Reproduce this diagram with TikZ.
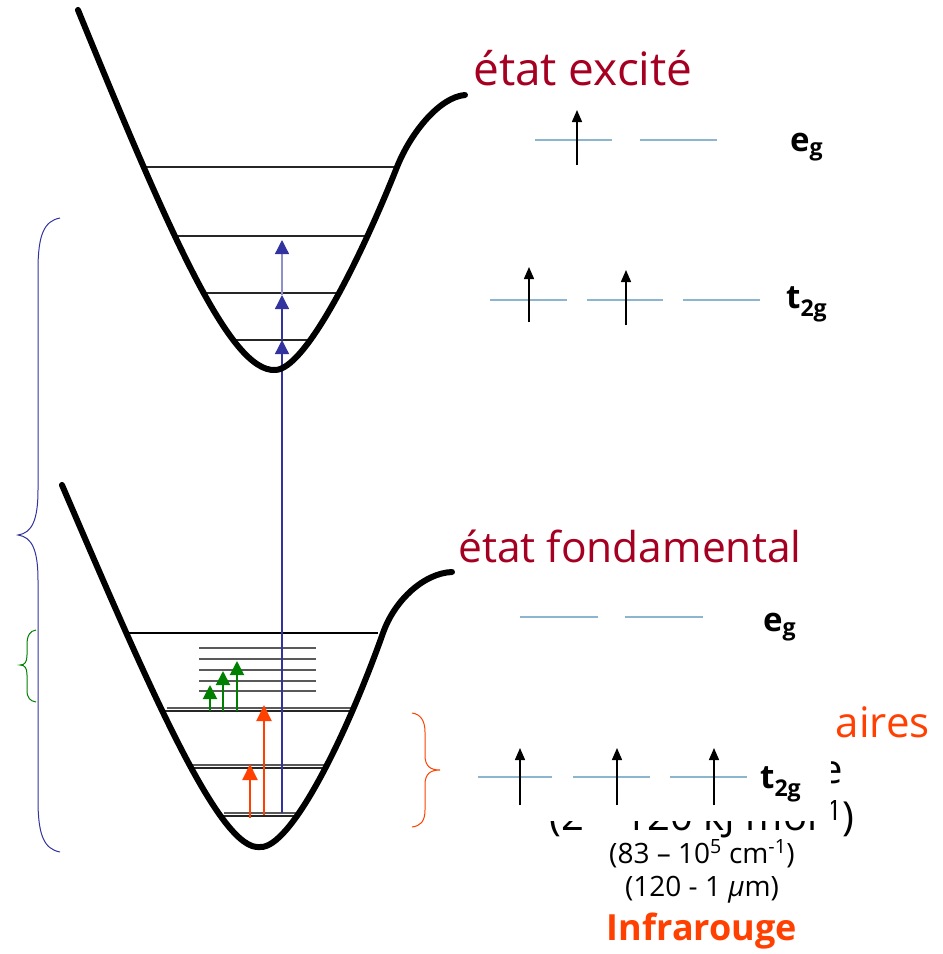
\documentclass[tikz,border=0pt]{standalone}
\usepackage{fontspec}
\setmainfont{Open Sans}
\usetikzlibrary{arrows.meta}
\definecolor{wine}{RGB}{165,0,33}
\definecolor{ired}{RGB}{255,64,0}
\definecolor{vblue}{RGB}{51,51,160}
\definecolor{vgreen}{RGB}{0,128,0}
\definecolor{orb}{RGB}{140,182,206}
\begin{document}
\begin{tikzpicture}[x=1pt,y=-1pt,
  pot/.style={line width=6pt,line cap=round,line join=round},
  lvl/.style={line width=1.5pt,black!85},
  lvlg/.style={line width=1.8pt,black!65},
  barrow/.style={line width=1.3pt,vblue,-{Triangle[length=14pt,width=14pt]}},
  garrow/.style={line width=2pt,vgreen,-{Triangle[length=14pt,width=14pt]}},
  rarrow/.style={line width=2pt,ired,-{Triangle[length=16pt,width=15pt]}},
  karrow/.style={line width=1.5pt,black,-{Triangle[length=12pt,width=10pt]}},
  orbl/.style={line width=2pt,orb},
  brace/.style={line width=1pt},
  title/.style={text=wine,inner sep=0pt},
  lab/.style={inner sep=0pt,font=\fontsize{33}{36}\selectfont\bfseries}]
\useasboundingbox (0,0) rectangle (943,954);

% ---------- excited state levels ----------
\draw[lvl] (143,167) -- (397,167);
\draw[lvl] (177,236) -- (365,236);
\draw[lvl] (205,293) -- (340,293);
\draw[lvl] (233,340) -- (312,340);

% ---------- ground state levels ----------
\draw[line width=1.3pt] (125,633) -- (378,633);
\foreach \yy in {648,659,670,681,691} \draw[lvlg] (199,\yy) -- (316,\yy);
\draw[lvlg] (167,708) -- (352,708); \draw[lvl] (162,711) -- (350,711);
\draw[lvlg] (190,765) -- (326,765); \draw[lvl] (188,768) -- (326,768);
\draw[lvlg] (224,813) -- (298,813); \draw[lvl] (222,816) -- (298,816);

% ---------- arrows in the wells ----------
\coordinate (b0) at (282,813);
\coordinate (b1) at (282,340);
\coordinate (b2) at (282,295);
\coordinate (b3) at (282,240);
\draw[barrow] (b0) -- (b1);
\draw[barrow] (b1) -- (b2);
\draw[line width=1.3pt,vblue!55,-{Triangle[length=14pt,width=14pt,color=vblue]}] (b2) -- (b3);

\coordinate (g1s) at (210,711); \coordinate (g1e) at (210,685);
\coordinate (g2s) at (223,711); \coordinate (g2e) at (223,671);
\coordinate (g3s) at (237,711); \coordinate (g3e) at (237,661);
\draw[garrow] (g1s) -- (g1e);
\draw[garrow] (g2s) -- (g2e);
\draw[garrow] (g3s) -- (g3e);

\coordinate (r1s) at (250,818); \coordinate (r1e) at (250,764);
\coordinate (r2s) at (264,815); \coordinate (r2e) at (264,705);
\draw[rarrow] (r1s) -- (r1e);
\draw[rarrow] (r2s) -- (r2e);

% ---------- potential curves ----------
\draw[pot] (78,10) .. controls (170,235) and (230,372) .. (275,370)
  .. controls (305,370) and (360,260) .. (397,167)
  .. controls (411,132) and (440,97) .. (465,95);
\draw[pot] (62,485) .. controls (150,690) and (220,852) .. (260,847)
  .. controls (290,849) and (345,740) .. (383,633)
  .. controls (395,599) and (425,573) .. (452,572);

% ---------- braces ----------
\draw[brace,vblue] (60,218) .. controls (44,221) and (38,235) .. (38,270) -- (38,490)
  .. controls (38,520) and (32,533) .. (18,535)
  .. controls (32,537) and (38,550) .. (38,580) -- (38,800)
  .. controls (38,835) and (44,849) .. (60,852);
\draw[brace,vgreen] (36,630) .. controls (30,631) and (27,635) .. (27,645) -- (27,655)
  .. controls (27,662) and (25,665) .. (20,665)
  .. controls (25,665) and (27,668) .. (27,675) -- (27,690)
  .. controls (27,698) and (30,701) .. (36,702);
\draw[brace,ired] (412,713) .. controls (420,714) and (425,720) .. (425,732) -- (425,755)
  .. controls (425,766) and (430,770) .. (440,770)
  .. controls (430,770) and (425,774) .. (425,785) -- (425,810)
  .. controls (425,822) and (420,826) .. (412,827);

% ---------- titles ----------
\node[title,anchor=base west,font=\fontsize{46}{50}\selectfont] (exc) at (473,85) {état excité};
\node[title,anchor=base west,font=\fontsize{42.5}{48}\selectfont] (fond) at (458,562) {état fondamental};

% ---------- partly hidden text ----------
\node[inner sep=0pt,anchor=base east,text=ired,font=\fontsize{42}{48}\selectfont] (aires) at (930,737) {aires};
\node[inner sep=0pt,anchor=base east,font=\fontsize{40}{46}\selectfont] (efrag) at (843,783) {e};
\node[inner sep=0pt,anchor=base,font=\fontsize{40}{46}\selectfont] (kj) at (702,830) {(2 – 120 kJ mol\textsuperscript{-1})};
\node[inner sep=0pt,anchor=base,font=\fontsize{28}{32}\selectfont] (cm) at (702,863) {(83 – 10\textsuperscript{5} cm\textsuperscript{-1})};
\node[inner sep=0pt,anchor=base,font=\fontsize{28}{32}\selectfont] (um) at (702,896) {(120 - 1 {\itshape µ}m)};
\node[inner sep=0pt,anchor=base,text=ired,font=\fontsize{36}{40}\selectfont\bfseries] (ir) at (702,940) {Infrarouge};

% ---------- lower orbital panel (covers text) ----------
\fill[white] (455,598) rectangle (831,821);

% ---------- upper orbital diagram ----------
\draw[orbl] (535,140) -- (612,140);
\draw[orbl] (640,140) -- (717,140);
\coordinate (ua0) at (577,165); \coordinate (ua1) at (577,110);
\draw[karrow] (ua0) -- (ua1);
\draw[orbl] (490,300) -- (567,300);
\draw[orbl] (587,300) -- (663,300);
\draw[orbl] (683,300) -- (760,300);
\coordinate (ub0) at (529,322); \coordinate (ub1) at (529,267);
\coordinate (uc0) at (626,325); \coordinate (uc1) at (626,270);
\draw[karrow] (ub0) -- (ub1);
\draw[karrow] (uc0) -- (uc1);
\node[lab,anchor=base west] (ueg) at (790,151) {e\textsubscript{g}};
\node[lab,anchor=base west] (ut2g) at (786,308) {t\textsubscript{2g}};

% ---------- lower orbital diagram ----------
\draw[orbl] (520,617) -- (598,617);
\draw[orbl] (625,617) -- (703,617);
\draw[orbl] (478,777) -- (552,777);
\draw[orbl] (573,777) -- (650,777);
\draw[orbl] (670,777) -- (747,777);
\foreach \xx/\nm in {520/la,617/lb,714/lc}{
  \coordinate (\nm0) at (\xx,805); \coordinate (\nm1) at (\xx,748);
  \draw[karrow] (\nm0) -- (\nm1);
}
\node[lab,anchor=base west] (leg) at (763,631) {e\textsubscript{g}};
\node[lab,anchor=base west] (lt2g) at (760,788) {t\textsubscript{2g}};
\end{tikzpicture}
\end{document}
